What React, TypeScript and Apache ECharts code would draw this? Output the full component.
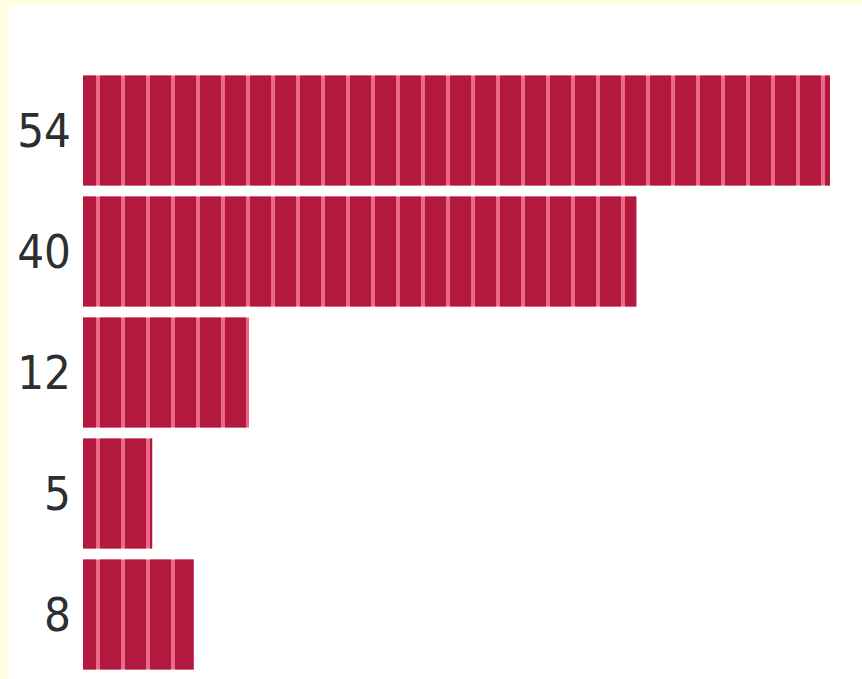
import React, { useEffect, useRef } from "react";
import * as echarts from "echarts";

const categories = ["54", "40", "12", "5", "8"];
const values = [54, 40, 12, 5, 8];

export default function App() {
  const ref = useRef<HTMLDivElement>(null);
  useEffect(() => {
    document.body.style.margin = "0";
    const chart = echarts.init(ref.current!, undefined, { renderer: "svg" });
    chart.setOption({
      animation: false,
      backgroundColor: "#fffee2",
      aria: { enabled: true, decal: { show: true } },
      graphic: [
        {
          type: "rect",
          z: -10,
          silent: true,
          shape: { x: 9, y: 5, width: 853, height: 674 },
          style: { fill: "#ffffff" },
        },
      ],
      grid: { left: 83, right: 32, top: 70, bottom: 4, containLabel: false },
      xAxis: {
        type: "value",
        min: 0,
        max: 54,
        show: false,
      },
      yAxis: {
        type: "category",
        data: categories,
        inverse: true,
        axisLine: { show: false },
        axisTick: { show: false },
        splitLine: { show: false },
        axisLabel: {
          margin: 12,
          fontSize: 47,
          color: "#2e2e2e",
          fontFamily: "'DejaVu Sans Condensed', 'Liberation Sans Narrow', Roboto, sans-serif",
        },
      },
      series: [
        {
          type: "bar",
          data: values,
          barCategoryGap: "9%",
          itemStyle: {
            color: "#ec6a86",
            borderColor: "#9a1535",
            borderWidth: 0,
            decal: {
              symbol: "rect",
              symbolSize: 1,
              dashArrayX: [21, 4],
              dashArrayY: [10, 0],
              rotation: 0,
              color: "#b3193f",
            },
          },
        },
      ],
    });
    return () => chart.dispose();
  }, []);
  return <div ref={ref} style={{ position: "fixed", left: 0, top: 0, width: 862, height: 679 }} />;
}
